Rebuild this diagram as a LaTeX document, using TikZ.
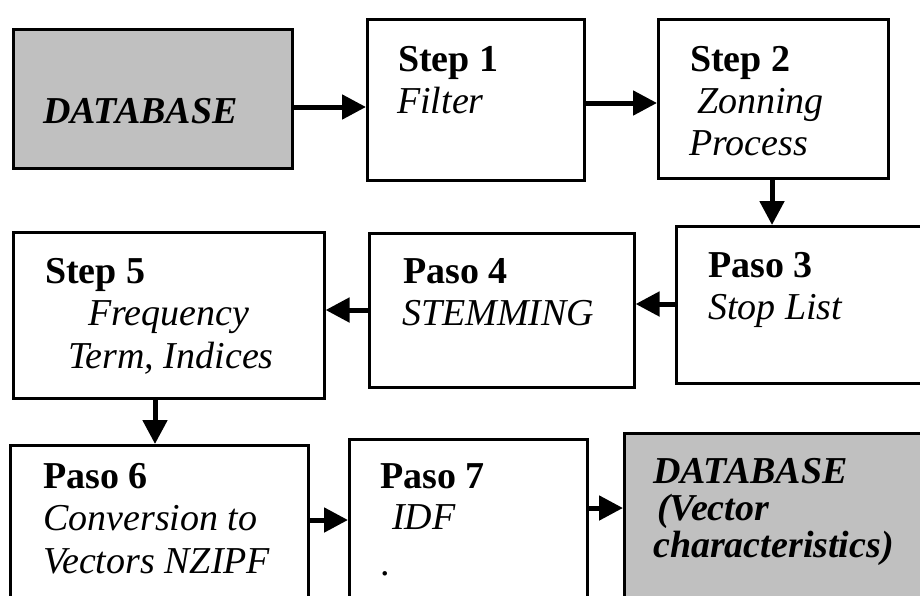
\documentclass[tikz,border=0pt]{standalone}
\usepackage{fontspec}
\setmainfont{Liberation Serif}
\usepackage{tikz}
\usetikzlibrary{arrows.meta}

\definecolor{boxgray}{RGB}{192,192,192}

\tikzset{
	stepbox/.style={draw, line width=2.6pt, inner sep=0pt, anchor=north west},
	dbbox/.style={stepbox, fill=boxgray},
	txt/.style={anchor=base west, inner sep=0pt, font=\fontsize{38}{43}\selectfont},
	flow/.style={line width=5pt, -{Triangle[length=24pt,width=24pt]}}
}

\begin{document}
\begin{tikzpicture}[x=1pt,y=-1pt]

	\useasboundingbox (0,0) rectangle (920,595);
	\clip (0,0) rectangle (920,595);

	\node[dbbox, minimum width=279pt, minimum height=139pt] (db) at (12,28) {};
	\node[stepbox, minimum width=217pt, minimum height=161pt] (s1) at (366,18) {};
	\node[stepbox, minimum width=230pt, minimum height=159pt] (s2) at (657,18) {};
	\node[stepbox, minimum width=300pt, minimum height=157pt] (p3) at (675,225) {};
	\node[stepbox, minimum width=265pt, minimum height=154pt] (p4) at (368,232) {};
	\node[stepbox, minimum width=311pt, minimum height=166pt] (s5) at (12,231) {};
	\node[stepbox, minimum width=298pt, minimum height=220pt] (p6) at (9,444) {};
	\node[stepbox, minimum width=238pt, minimum height=220pt] (p7) at (348,438) {};
	\node[dbbox, minimum width=350pt, minimum height=220pt] (db2) at (623,432) {};

	\node[txt] (dba) at (43,123) {\textbf{\textit{DATABASE}}};

	\node[txt] (s1a) at (398,71) {\textbf{Step 1}};
	\node[txt] (s1b) at (397,113) {\textit{Filter}};

	\node[txt] (s2a) at (690,71) {\textbf{Step 2}};
	\node[txt] (s2b) at (697,113) {\textit{Zonning}};
	\node[txt] (s2c) at (689,155) {\textit{Process}};

	\node[txt] (p3a) at (708,277) {\textbf{Paso 3}};
	\node[txt] (p3b) at (708,319) {\textit{Stop List}};

	\node[txt] (p4a) at (403,283) {\textbf{Paso 4}};
	\node[txt] (p4b) at (402,325) {\textit{STEMMING}};

	\node[txt] (s5a) at (45,283) {\textbf{Step 5}};
	\node[txt] (s5b) at (88,325) {\textit{Frequency}};
	\node[txt] (s5c) at (68,368) {\textit{Term, Indices}};

	\node[txt] (p6a) at (43,488) {\textbf{Paso 6}};
	\node[txt] (p6b) at (43,530) {\textit{Conversion to}};
	\node[txt] (p6c) at (43,573) {\textit{Vectors NZIPF}};

	\node[txt] (p7a) at (380,488) {\textbf{Paso 7}};
	\node[txt] (p7b) at (392,529) {\textit{IDF}};
	\node[txt] (p7c) at (380,575) {.};

	\node[txt] (db2a) at (653,483) {\textbf{\textit{DATABASE}}};
	\node[txt] (db2b) at (657,520) {\textbf{\textit{(Vector}}};
	\node[txt] (db2c) at (653,557) {\textbf{\textit{characteristics)}}};

	\draw[flow] (db.east |- 0,107) -- (s1.west |- 0,107);
	\draw[flow] (s1.east |- 0,103) -- (s2.west |- 0,103);
	\draw[flow] (s2.south -| 772,0) -- (p3.north -| 772,0);
	\draw[flow] (p3.west |- 0,304) -- (p4.east |- 0,304);
	\draw[flow] (p4.west |- 0,310) -- (s5.east |- 0,310);
	\draw[flow] (s5.south -| 155,0) -- (p6.north -| 155,0);
	\draw[flow] (p6.east |- 0,520) -- (p7.west |- 0,520);
	\draw[flow] (p7.east |- 0,508) -- (db2.west |- 0,508);

\end{tikzpicture}
\end{document}
